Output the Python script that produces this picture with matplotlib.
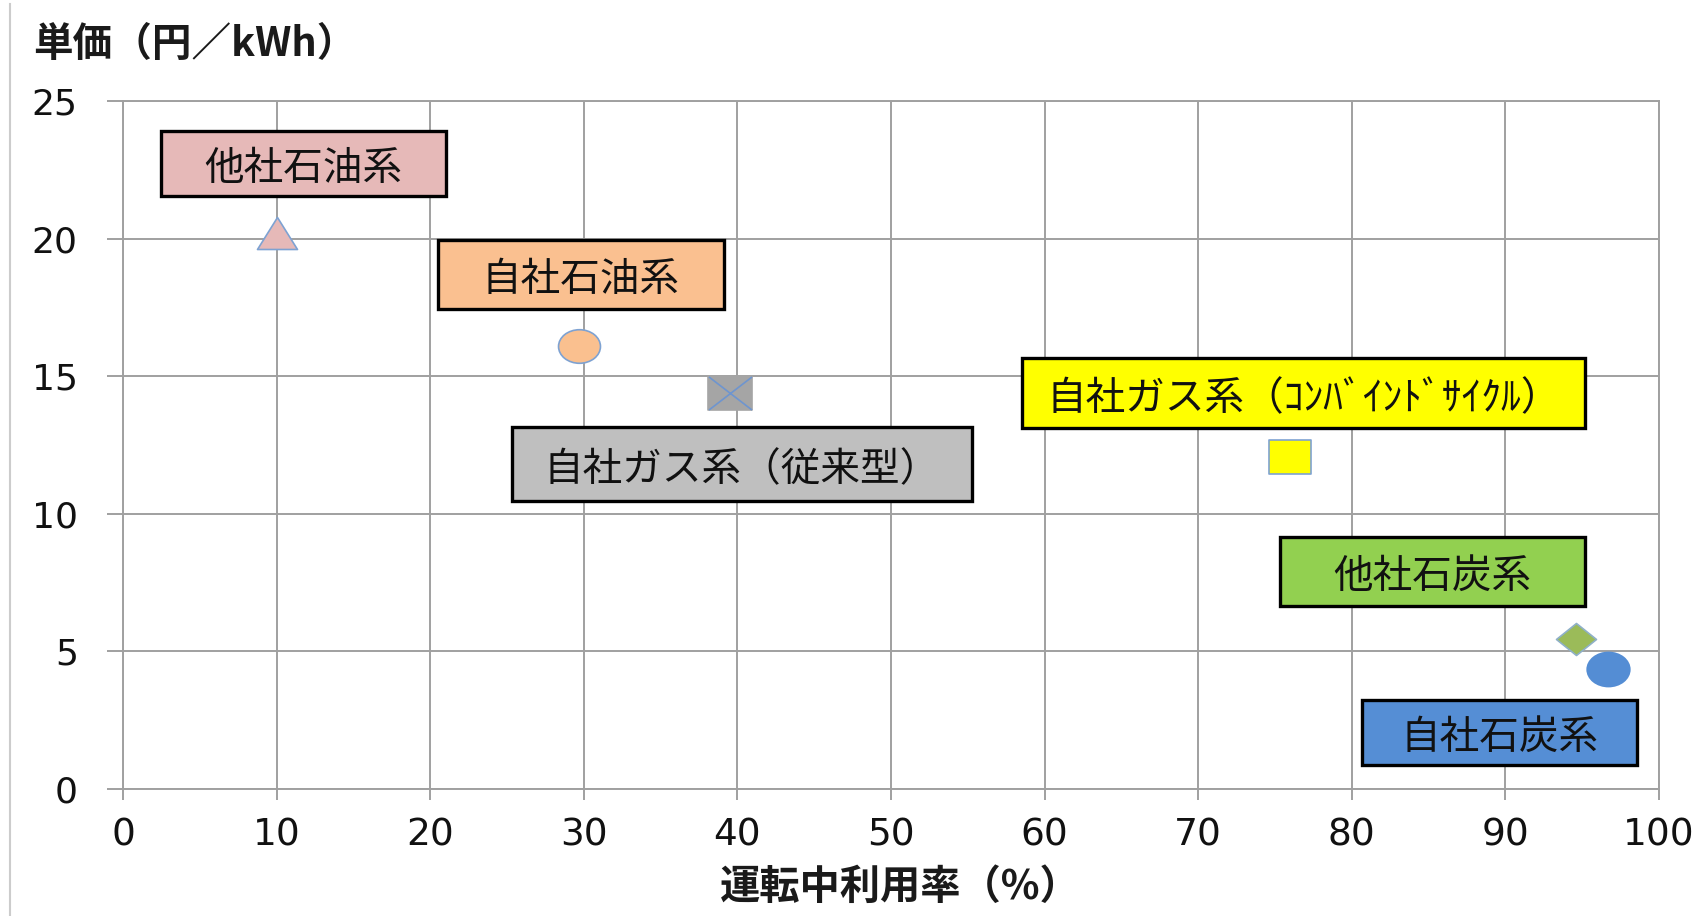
import matplotlib
matplotlib.use("Agg")
import matplotlib.pyplot as plt
from matplotlib.path import Path
from matplotlib.markers import MarkerStyle
from matplotlib.patches import Rectangle
from matplotlib.lines import Line2D

plt.rcParams['font.family'] = ['Noto Sans CJK JP', 'DejaVu Sans']

# ---- data -------------------------------------------------------------
labels = [
    '他社石油系',
    '自社石油系',
    '自社ガス系（従来型）',
    '自社ガス系（ｺﾝﾊﾞｲﾝﾄﾞｻｲｸﾙ）',
    '他社石炭系',
    '自社石炭系',
]
utilization = [10.0, 29.7, 39.5, 76.0, 94.6, 96.7]   # 運転中利用率 (%)
unit_price = [20.2, 16.1, 14.4, 12.05, 5.45, 4.35]   # 単価 (円/kWh)

x_ticks = [0, 10, 20, 30, 40, 50, 60, 70, 80, 90, 100]
y_ticks = [0, 5, 10, 15, 20, 25]
x_label = '運転中利用率（%）'
y_label = '単価（円／kWh）'

# ---- marker shapes (width-normalised paths, |x| <= 0.5) ---------------
def ellipse(ry):
    c = Path.unit_circle()
    return Path(c.vertices * [0.5, ry * 2], c.codes)

def rect(ry):
    return Path([(-0.5, -ry), (0.5, -ry), (0.5, ry), (-0.5, ry), (-0.5, -ry)], closed=True)

def triangle(ry):
    return Path([(0, ry), (-0.5, -ry), (0.5, -ry), (0, ry)], closed=True)

def diamond(ry):
    return Path([(0, ry), (-0.5, 0), (0, -ry), (0.5, 0), (0, ry)], closed=True)

def cross(ry):
    return Path([(-0.5, -ry), (0.5, ry), (-0.5, ry), (0.5, -ry)],
                [Path.MOVETO, Path.LINETO, Path.MOVETO, Path.LINETO])

edge_blue = '#7EA2D2'
marker_styles = [
    dict(path=triangle(0.40), ms=28.8, fc='#E6B9B8', ec=edge_blue),
    dict(path=ellipse(0.20), ms=30.2, fc='#FAC08F', ec=edge_blue),
    dict(path=rect(0.384), ms=31.0, fc='#A5A5A5', ec='#A5A5A5', overlay=cross(0.384)),
    dict(path=rect(0.41), ms=29.8, fc='#FFFF00', ec=edge_blue),
    dict(path=diamond(0.40), ms=28.8, fc='#9BBB59', ec='#8FB0C8'),
    dict(path=ellipse(0.20), ms=30.7, fc='#548DD4', ec='#548DD4'),
]

# label boxes: (x0, x1, y0, y1) in data units, fill colour
box_layout = [
    ((2.5, 21.0, 21.55, 23.9), '#E6B9B8'),
    ((20.5, 39.1, 17.45, 19.95), '#FAC090'),
    ((25.3, 55.25, 10.45, 13.15), '#BFBFBF'),
    ((58.5, 95.2, 13.1, 15.65), '#FFFF00'),
    ((75.3, 95.2, 6.65, 9.15), '#92D050'),
    ((80.65, 98.6, 0.87, 3.23), '#558ED5'),
]

# ---- figure -----------------------------------------------------------
W, H = 1704, 916
fig = plt.figure(figsize=(W / 100, H / 100), dpi=100)
ax = fig.add_axes([123 / W, 1 - 789 / H, (1659 - 123) / W, (789 - 101) / H])

grid_c = '#A0A0A0'
ax.set_xlim(0, 100)
ax.set_ylim(0, 25)
ax.set_xticks(x_ticks)
ax.set_yticks(y_ticks)
ax.grid(True, color=grid_c, lw=1.4, zorder=0)
ax.set_axisbelow(True)
for s in ax.spines.values():
    s.set_color(grid_c)
    s.set_linewidth(1.4)

ax.tick_params(axis='y', length=11.5, width=1.4, color=grid_c, pad=21, labelsize=26)
ax.tick_params(axis='x', length=8, width=1.4, color=grid_c, pad=12.5, labelsize=27)
for t in ax.get_xticklabels() + ax.get_yticklabels():
    t.set_fontfamily('DejaVu Sans')
    t.set_color('#111111')

# markers
for x, y, st in zip(utilization, unit_price, marker_styles):
    ax.plot([x], [y], linestyle='none', marker=MarkerStyle(st['path']),
            ms=st['ms'], mfc=st['fc'], mec=st['ec'], mew=1.2, zorder=4, clip_on=False)
    if 'overlay' in st:
        ax.plot([x], [y], linestyle='none', marker=MarkerStyle(st['overlay']),
                ms=st['ms'], mfc='none', mec='#6E95CF', mew=1.2, zorder=5, clip_on=False)

# label boxes
for text, ((x0, x1, y0, y1), fc) in zip(labels, box_layout):
    ax.add_patch(Rectangle((x0, y0), x1 - x0, y1 - y0, facecolor=fc,
                           edgecolor='black', lw=2.4, zorder=6, clip_on=False))
    ax.annotate(text, xy=((x0 + x1) / 2, (y0 + y1) / 2), xytext=(0, -4),
                textcoords='offset points', ha='center', va='center',
                fontsize=28.5, color='#111111', zorder=7)

# axis titles
fig.text(33 / W, 1 - 44 / H, y_label, ha='left', va='center', fontsize=28.5,
         fontweight='bold', color='#1A1A1A')
fig.text(900 / W, 1 - 887 / H, x_label, ha='center', va='center', fontsize=29,
         fontweight='bold', color='#1A1A1A')

# thin frame line at the left edge
fig.add_artist(Line2D([9.5 / W, 9.5 / W], [0, 1 - 4 / H], transform=fig.transFigure,
                      color='#CCCCCC', lw=1.5))

fig.savefig('out.png', dpi=100)
